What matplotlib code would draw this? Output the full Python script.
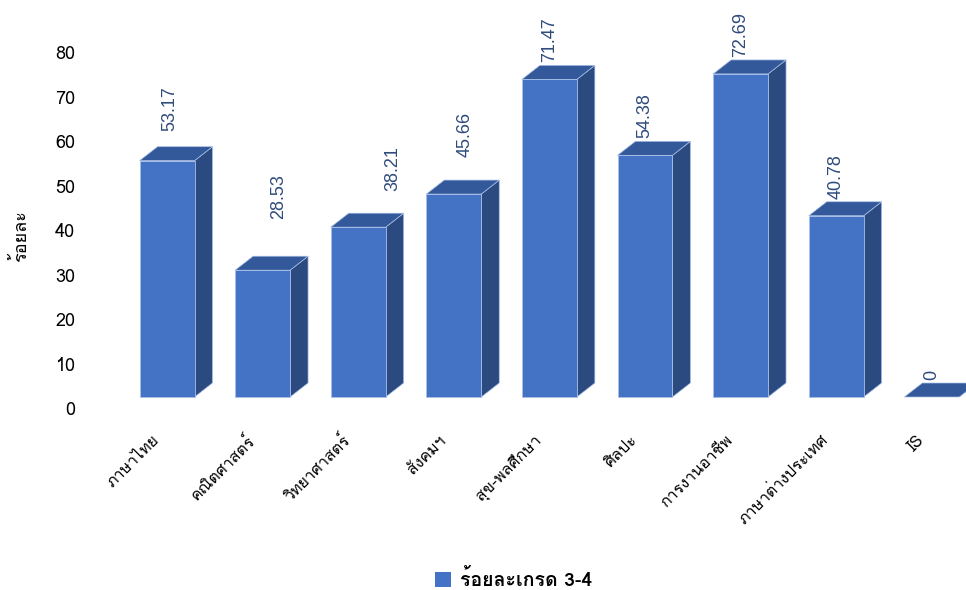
import matplotlib
matplotlib.use("Agg")
import matplotlib.pyplot as plt
from matplotlib import font_manager, ft2font, transforms
from matplotlib.patches import Polygon, Patch

# ข้อมูล
subjects = ["ภาษาไทย", "คณิตศาสตร์", "วิทยาศาสตร์", "สังคมฯ", "สุข-พลศึกษา",
            "ศิลปะ", "การงานอาชีพ", "ภาษาต่างประเทศ", "IS"]
percent_34 = [53.17, 28.53, 38.21, 45.66, 71.47, 54.38, 72.69, 40.78, 0]
y_ticks = [0, 10, 20, 30, 40, 50, 60, 70, 80]

# หา font ที่มีอักษรไทย
thai_font = None
for f in font_manager.fontManager.ttflist:
    try:
        if 0x0E01 in ft2font.FT2Font(f.fname).get_charmap():
            thai_font = f.name
            break
    except Exception:
        pass
fams = [thai_font, "DejaVu Sans"] if thai_font else ["DejaVu Sans"]
plt.rcParams["font.family"] = fams

front_c = "#4472C4"
top_c = "#34599A"
side_c = "#2B4A80"
edge_c = "#A9C0E8"

fig = plt.figure(figsize=(9.66, 5.9), dpi=100)
ax = fig.add_axes([85 / 966, 170 / 590, 881 / 966, 390 / 590])
ax.set_xlim(-0.858, 8.358)
ax.set_ylim(-2.7, 85.05)

# bars ยกขึ้นเล็กน้อยเหมือนกราฟ 3D ของ Excel
trans = ax.transData + transforms.ScaledTranslation(0, 0.11, fig.dpi_scale_trans)
w = 0.575
dx, dy = 0.188, 3.15

# ขยับป้ายตัวเลข (px)
nudge = [(3, 13), (16, 34), (35, 19), (11, 20), (0, 0), (0, 0), (0, 0), (0, 0), (0, 0)]

for i, v in enumerate(percent_34):
    x0, x1 = i - w / 2, i + w / 2
    side = Polygon([(x1, 0), (x1 + dx, dy), (x1 + dx, v + dy), (x1, v)],
                   closed=True, facecolor=side_c, edgecolor=edge_c, lw=0.5, transform=trans)
    top = Polygon([(x0, v), (x0 + dx, v + dy), (x1 + dx, v + dy), (x1, v)],
                  closed=True, facecolor=top_c, edgecolor=edge_c, lw=0.5, transform=trans)
    ax.add_patch(side)
    ax.add_patch(top)
    if v > 0:
        front = Polygon([(x0, 0), (x0, v), (x1, v), (x1, 0)],
                        closed=True, facecolor=front_c, edgecolor=edge_c, lw=0.6, transform=trans)
        ax.add_patch(front)
    nx, ny = nudge[i]
    ax.annotate(f"{v:g}", xy=(i, v), xycoords=trans,
                xytext=(nx * 0.72, (14 + 3 + ny) * 0.72), textcoords="offset points",
                rotation=90, ha="center", va="bottom", fontsize=13,
                color="#2F4B7C", family=["Liberation Sans", "DejaVu Sans"])

ax.set_yticks(y_ticks)
ax.set_yticklabels([str(t) for t in y_ticks], fontsize=13)
ax.tick_params(axis="y", length=0, pad=7)

ax.set_xticks(range(len(subjects)))
ax.set_xticklabels(subjects, rotation=45, ha="right", va="center",
                   rotation_mode="anchor", fontsize=11.5)
ax.tick_params(axis="x", length=0, pad=13)
shift_x = transforms.ScaledTranslation(-0.10, 0, fig.dpi_scale_trans)
for lab in ax.get_xticklabels():
    lab.set_transform(lab.get_transform() + shift_x)

for s in ax.spines.values():
    s.set_visible(False)

fig.text(21 / 966, 1 - 236 / 590, "ร้อยละ", rotation=90, ha="center", va="center", fontsize=13)

fig.legend(handles=[Patch(facecolor=front_c, label="ร้อยละเกรด 3-4")],
           loc="center", bbox_to_anchor=(0.532, 0.017), frameon=False,
           handlelength=0.8, handleheight=0.8, handletextpad=0.5,
           prop={"weight": "bold", "size": 14})

fig.savefig("out.png", dpi=100)
